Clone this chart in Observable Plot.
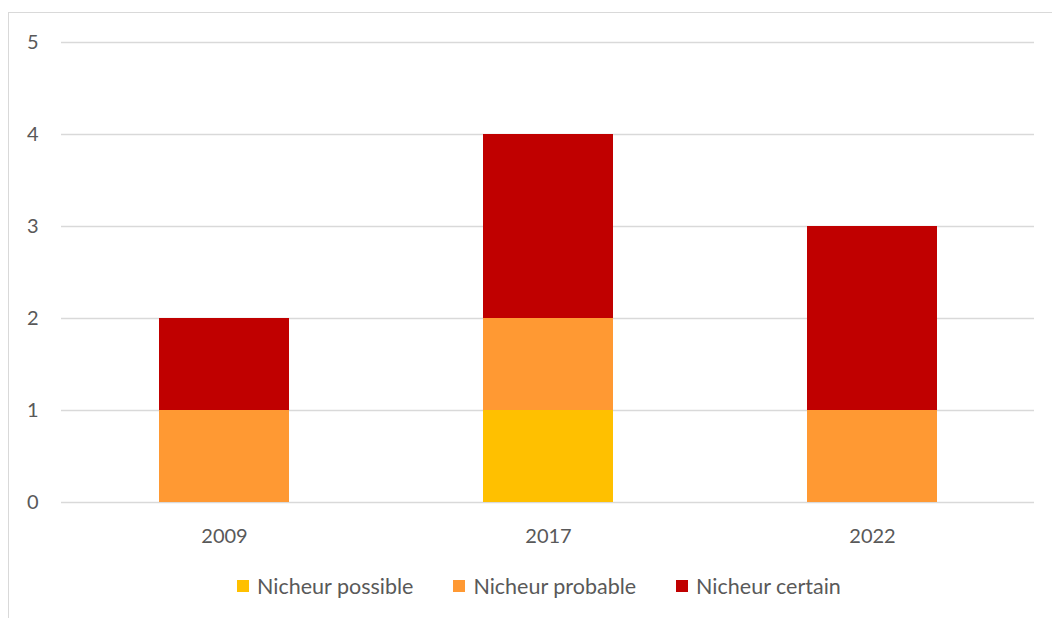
<!DOCTYPE html>
<html>
<head>
<meta charset="utf-8">
<script src="https://cdn.jsdelivr.net/npm/d3@7"></script>
<script src="https://cdn.jsdelivr.net/npm/@observablehq/plot@0.6"></script>
<style>
  body { margin: 0; background: #fff; overflow: hidden; }
  #wrap { position: relative; width: 1052px; height: 618px; font-family: Lato, "Open Sans", sans-serif; }
  #frame { position: absolute; left: 8px; top: 12px; width: 1060px; height: 640px; border: 1.5px solid #d9d9d9; box-sizing: border-box; }
  #chart { position: absolute; left: 0; top: 0; }
  #legend { position: absolute; left: 237px; top: 573px; display: flex; gap: 40px; font-size: 21.5px; line-height: 26px; color: #595959; }
  .item { display: flex; align-items: center; }
  .sw { width: 12px; height: 12px; margin-right: 8px; }
</style>
</head>
<body>
<div id="wrap">
  <div id="frame"></div>
  <div id="chart"></div>
  <div id="legend"></div>
</div>
<script>
const years = ["2009", "2017", "2022"];
const seriesNames = ["Nicheur possible", "Nicheur probable", "Nicheur certain"];
const seriesColors = ["#FFC000", "#FF9933", "#C00000"];
const possible = [0, 1, 0];
const probable = [1, 1, 1];
const certain = [1, 2, 2];
const yTicks = [0, 1, 2, 3, 4, 5];

const values = [possible, probable, certain];
const data = [];
seriesNames.forEach((s, i) => years.forEach((y, j) => data.push({year: y, series: s, value: values[i][j]})));

const plot = Plot.plot({
  width: 1052,
  height: 560,
  marginLeft: 61,
  marginRight: 18,
  marginTop: 42,
  marginBottom: 58,
  style: { fontFamily: "Lato, 'Open Sans', sans-serif", fontSize: "20px", color: "#595959", background: "transparent" },
  x: { domain: years, paddingInner: 0.6, paddingOuter: 0.3, label: null },
  y: { domain: [0, 5], label: null },
  color: { domain: seriesNames, range: seriesColors },
  marks: [
    Plot.gridY(yTicks, { stroke: "#d9d9d9", strokeOpacity: 1, strokeWidth: 1.5 }),
    Plot.barY(data, { x: "year", y: "value", fill: "series", order: seriesNames }),
    Plot.axisX({ tickSize: 0, tickPadding: 26, fontSize: 20 }),
    Plot.axisY({ ticks: yTicks, tickFormat: d3.format("d"), tickSize: 0, tickPadding: 23, fontSize: 20 })
  ]
});
document.getElementById("chart").appendChild(plot);

const legend = document.getElementById("legend");
seriesNames.forEach((s, i) => {
  const it = document.createElement("div");
  it.className = "item";
  const sw = document.createElement("div");
  sw.className = "sw";
  sw.style.background = seriesColors[i];
  const t = document.createElement("span");
  t.textContent = s;
  it.appendChild(sw); it.appendChild(t);
  legend.appendChild(it);
});
</script>
</body>
</html>
